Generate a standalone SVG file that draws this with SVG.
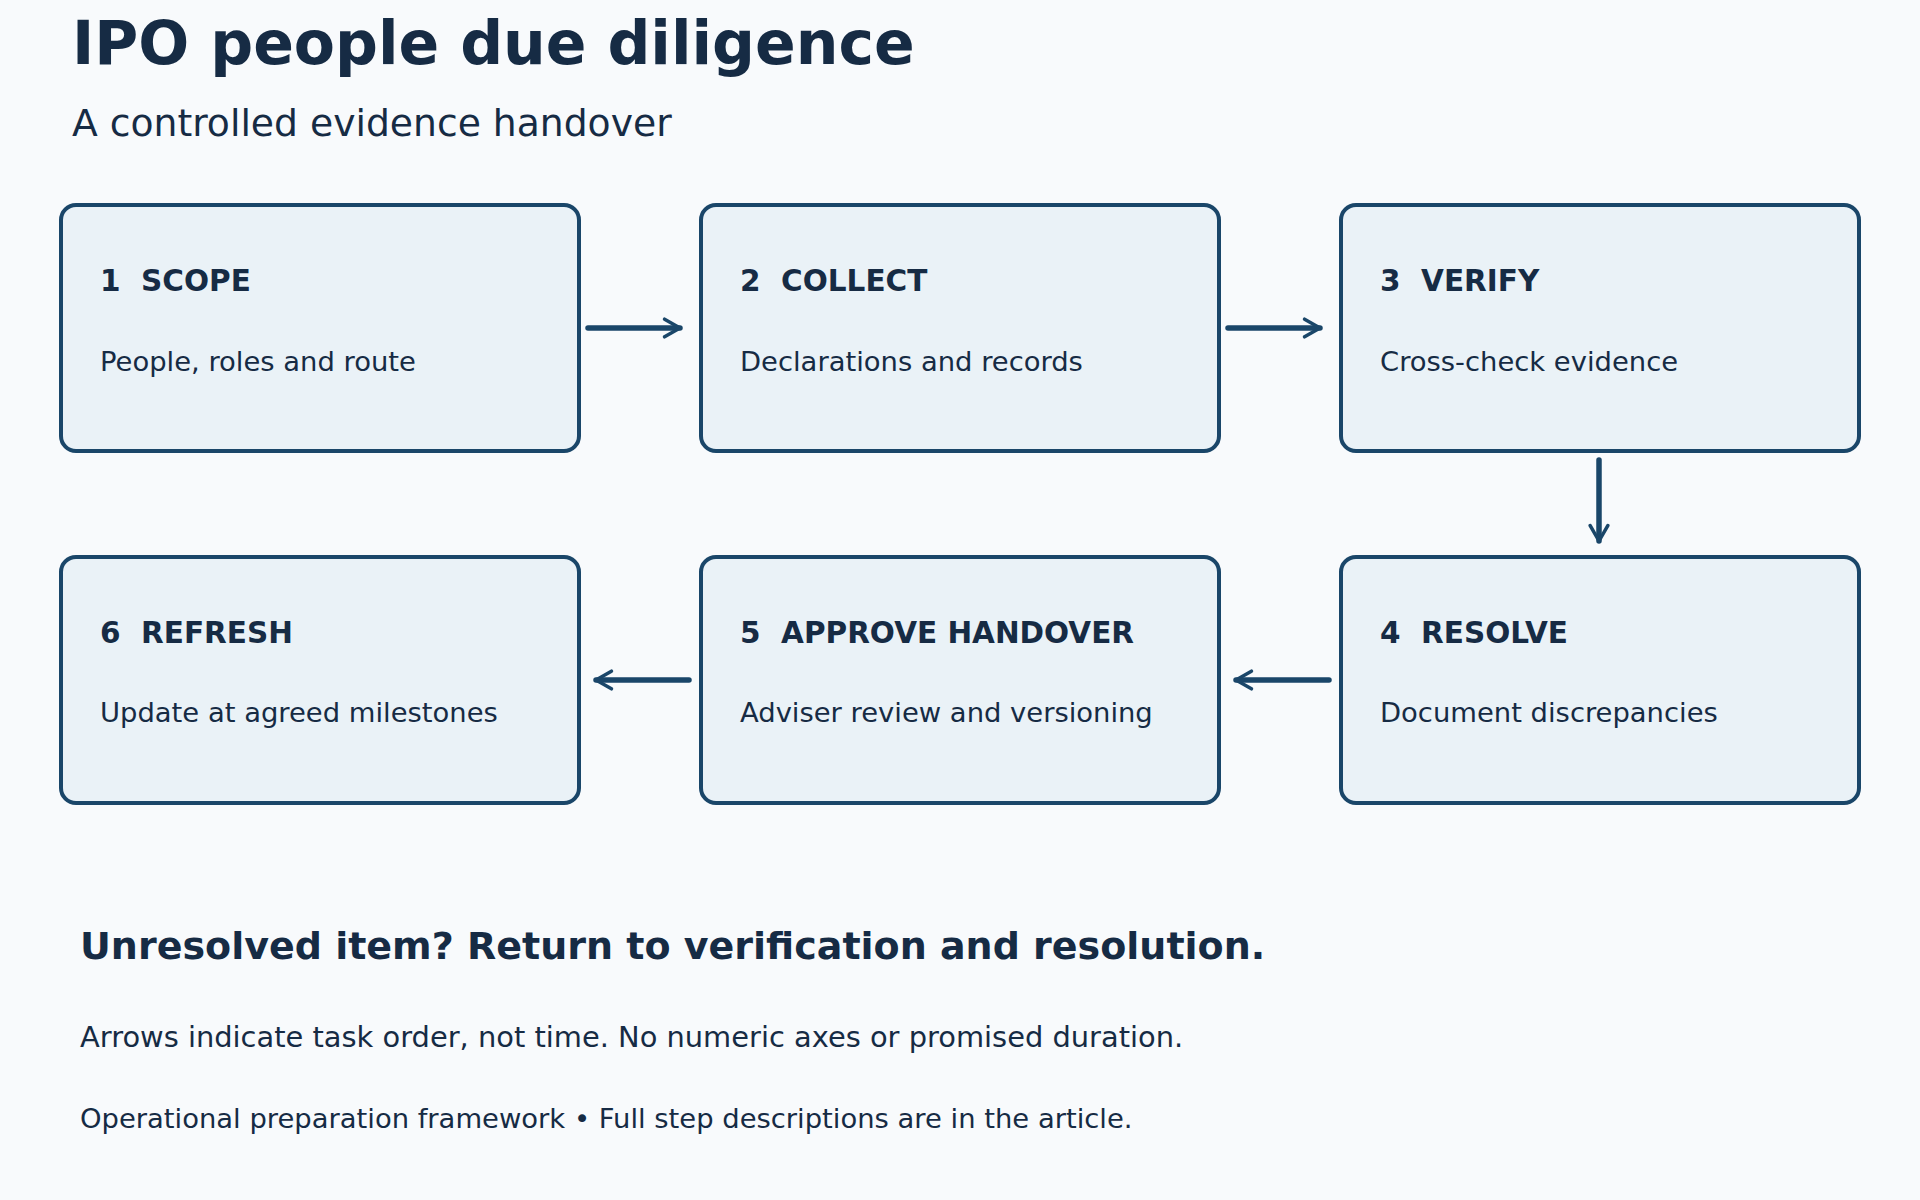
<svg xmlns="http://www.w3.org/2000/svg" width="1920" height="1200" viewBox="0 0 1920 1200">
<defs>
<style>
text{font-family:"DejaVu Sans",sans-serif;fill:#162b44}
.box{fill:#eaf2f7;stroke:#1a4669;stroke-width:4}
.t{font-size:29.5px;font-weight:bold;white-space:pre}
.d{font-size:27.4px}
.c{stroke:#1a4669;stroke-width:5.5;fill:none;stroke-linecap:round;marker-end:url(#ah)}
</style>
<marker id="ah" viewBox="0 0 10 10" refX="8" refY="5" markerWidth="4" markerHeight="4" orient="auto" markerUnits="strokeWidth">
<path d="M1,1 L8,5 L1,9" fill="none" stroke="#1a4669" stroke-width="1.6" stroke-linecap="round" stroke-linejoin="round"/>
</marker>
</defs>
<rect width="1920" height="1200" fill="#f8fafc"/>
<text x="72" y="64" font-size="60" font-weight="bold">IPO people due diligence</text>
<text x="72" y="136" font-size="37.7">A controlled evidence handover</text>
<g id="n1"><rect class="box" x="61" y="205" width="518" height="246" rx="15"/><text class="t" x="100" y="291" xml:space="preserve">1  SCOPE</text><text class="d" x="100" y="371">People, roles and route</text></g>
<g id="n2"><rect class="box" x="701" y="205" width="518" height="246" rx="15"/><text class="t" x="740" y="291" xml:space="preserve">2  COLLECT</text><text class="d" x="740" y="371">Declarations and records</text></g>
<g id="n3"><rect class="box" x="1341" y="205" width="518" height="246" rx="15"/><text class="t" x="1380" y="291" xml:space="preserve">3  VERIFY</text><text class="d" x="1380" y="371">Cross-check evidence</text></g>
<g id="n4"><rect class="box" x="1341" y="557" width="518" height="246" rx="15"/><text class="t" x="1380" y="643" xml:space="preserve">4  RESOLVE</text><text class="d" x="1380" y="722">Document discrepancies</text></g>
<g id="n5"><rect class="box" x="701" y="557" width="518" height="246" rx="15"/><text class="t" x="740" y="643" xml:space="preserve">5  APPROVE HANDOVER</text><text class="d" x="740" y="722">Adviser review and versioning</text></g>
<g id="n6"><rect class="box" x="61" y="557" width="518" height="246" rx="15"/><text class="t" x="100" y="643" xml:space="preserve">6  REFRESH</text><text class="d" x="100" y="722">Update at agreed milestones</text></g>
<g id="connectors">
<line class="c" x1="588" y1="328" x2="680" y2="328"/>
<line class="c" x1="1228" y1="328" x2="1320" y2="328"/>
<line class="c" x1="1599" y1="460" x2="1599" y2="541"/>
<line class="c" x1="1329" y1="680" x2="1236" y2="680"/>
<line class="c" x1="689" y1="680" x2="596" y2="680"/>
</g>
<text x="80" y="959" font-size="38" font-weight="bold">Unresolved item? Return to verification and resolution.</text>
<text x="80" y="1047" font-size="28.9">Arrows indicate task order, not time. No numeric axes or promised duration.</text>
<text x="80" y="1128" font-size="27.4">Operational preparation framework • Full step descriptions are in the article.</text>
</svg>
